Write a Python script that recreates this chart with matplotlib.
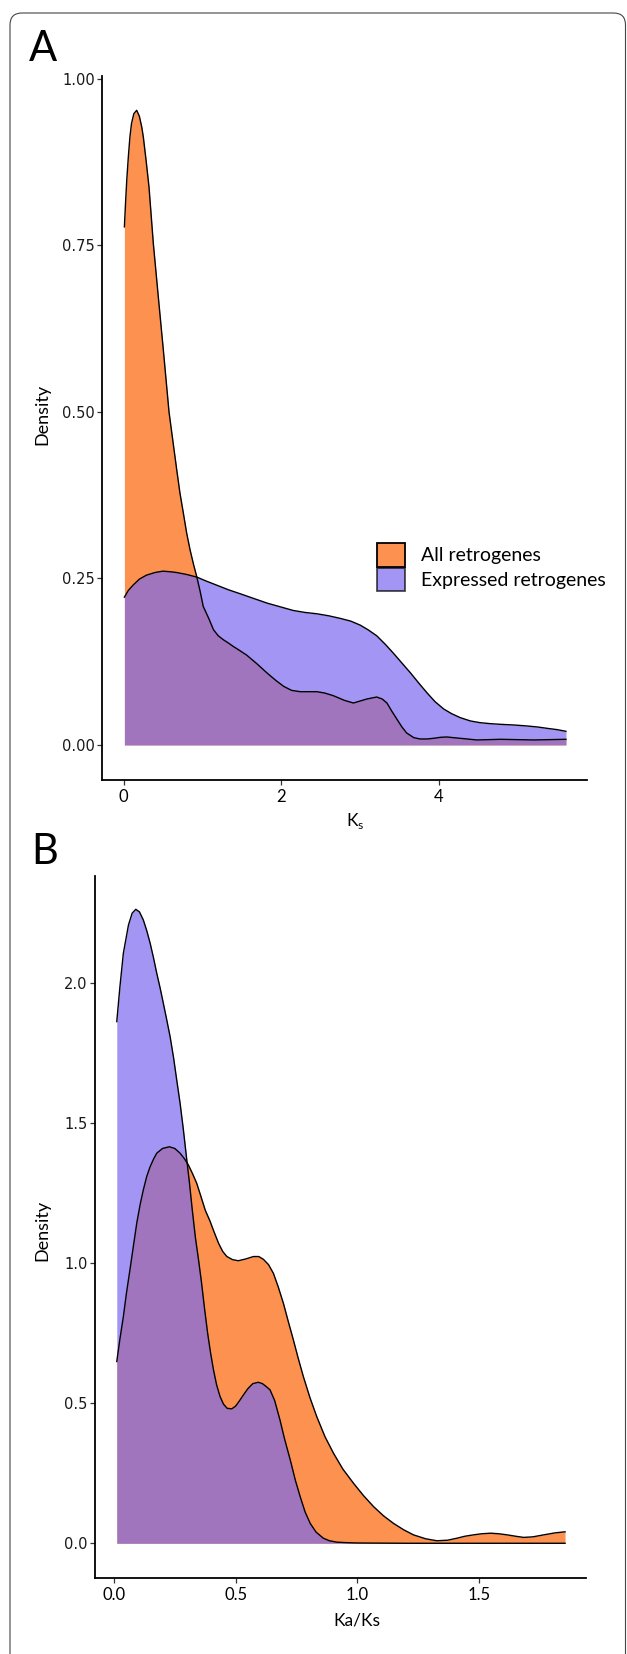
import matplotlib
matplotlib.use('Agg')
import matplotlib.pyplot as plt
from matplotlib.patches import Patch, FancyBboxPatch
from matplotlib.transforms import IdentityTransform

# panel A: Ks densities
ks_all_x = [0.01, 0.025, 0.04, 0.06, 0.08, 0.10, 0.13, 0.166, 0.20, 0.23, 0.25, 0.285, 0.322,
            0.377, 0.44, 0.504, 0.576, 0.63, 0.674, 0.715, 0.758, 0.80, 0.843, 0.885, 0.927,
            0.97, 1.01, 1.08, 1.14, 1.20, 1.265, 1.33, 1.39, 1.47, 1.56, 1.69, 1.82, 1.93,
            2.03, 2.13, 2.24, 2.35, 2.45, 2.55, 2.66, 2.80, 2.915, 3.00, 3.085, 3.21, 3.28,
            3.34, 3.40, 3.47, 3.53, 3.59, 3.68, 3.76, 3.85, 3.93, 4.02, 4.10, 4.18, 4.27,
            4.48, 4.78, 5.20, 5.61]
ks_all_y = [0.778, 0.815, 0.848, 0.883, 0.913, 0.933, 0.948, 0.953, 0.944, 0.928, 0.913, 0.878,
            0.838, 0.753, 0.673, 0.593, 0.500, 0.452, 0.413, 0.378, 0.348, 0.318, 0.293, 0.272,
            0.253, 0.231, 0.208, 0.190, 0.173, 0.164, 0.158, 0.153, 0.148, 0.142, 0.135, 0.122,
            0.108, 0.097, 0.088, 0.082, 0.080, 0.080, 0.080, 0.078, 0.074, 0.067, 0.063, 0.066,
            0.069, 0.072, 0.069, 0.063, 0.051, 0.038, 0.027, 0.018, 0.011, 0.009, 0.009, 0.010,
            0.0115, 0.012, 0.011, 0.010, 0.0075, 0.0085, 0.0075, 0.0085]
ks_expr_x = [0.01, 0.06, 0.12, 0.20, 0.29, 0.40, 0.50, 0.60, 0.67, 0.80, 0.93, 1.05, 1.18, 1.33,
             1.48, 1.65, 1.82, 2.00, 2.15, 2.30, 2.45, 2.60, 2.75, 2.88, 3.00, 3.10, 3.21, 3.32,
             3.42, 3.53, 3.64, 3.75, 3.85, 3.95, 4.06, 4.16, 4.27, 4.40, 4.52, 4.65, 4.78, 4.95,
             5.12, 5.25, 5.37, 5.50, 5.61]
ks_expr_y = [0.222, 0.232, 0.240, 0.249, 0.255, 0.259, 0.261, 0.260, 0.259, 0.256, 0.252, 0.246,
             0.240, 0.233, 0.227, 0.220, 0.213, 0.207, 0.202, 0.199, 0.197, 0.194, 0.190, 0.186,
             0.180, 0.173, 0.164, 0.151, 0.138, 0.123, 0.108, 0.092, 0.078, 0.065, 0.054, 0.047,
             0.041, 0.036, 0.0335, 0.032, 0.031, 0.030, 0.0285, 0.027, 0.025, 0.023, 0.0205]

# panel B: Ka/Ks densities
kaks_all_x = [0.012, 0.025, 0.039, 0.052, 0.066, 0.08, 0.094, 0.108, 0.121, 0.135, 0.149, 0.163,
              0.176, 0.20, 0.228, 0.25, 0.272, 0.29, 0.306, 0.323, 0.340, 0.357, 0.375, 0.395,
              0.41, 0.430, 0.447, 0.464, 0.487, 0.511, 0.54, 0.573, 0.595, 0.614, 0.635, 0.655,
              0.675, 0.696, 0.716, 0.737, 0.757, 0.778, 0.805, 0.833, 0.867, 0.902, 0.94, 0.984,
              1.025, 1.066, 1.107, 1.148, 1.19, 1.230, 1.28, 1.326, 1.37, 1.408, 1.44, 1.476,
              1.51, 1.547, 1.58, 1.615, 1.65, 1.682, 1.72, 1.764, 1.81, 1.852]
kaks_all_y = [0.649, 0.730, 0.809, 0.895, 0.976, 1.060, 1.143, 1.210, 1.262, 1.310, 1.345, 1.372,
              1.393, 1.410, 1.416, 1.410, 1.393, 1.373, 1.351, 1.320, 1.286, 1.240, 1.190, 1.150,
              1.115, 1.071, 1.042, 1.024, 1.013, 1.009, 1.015, 1.024, 1.024, 1.014, 0.995, 0.964,
              0.915, 0.857, 0.792, 0.726, 0.660, 0.595, 0.520, 0.452, 0.380, 0.321, 0.265, 0.214,
              0.170, 0.131, 0.098, 0.071, 0.048, 0.030, 0.016, 0.009, 0.011, 0.018, 0.025, 0.030,
              0.034, 0.036, 0.034, 0.030, 0.025, 0.021, 0.023, 0.030, 0.037, 0.041]
kaks_expr_x = [0.012, 0.025, 0.039, 0.06, 0.075, 0.09, 0.105, 0.121, 0.135, 0.149, 0.163, 0.176,
               0.19, 0.203, 0.217, 0.231, 0.245, 0.258, 0.272, 0.285, 0.298, 0.31, 0.322, 0.335,
               0.348, 0.36, 0.372, 0.385, 0.397, 0.409, 0.422, 0.436, 0.45, 0.465, 0.484, 0.50,
               0.515, 0.532, 0.55, 0.57, 0.593, 0.61, 0.625, 0.641, 0.66, 0.682, 0.70, 0.724,
               0.745, 0.765, 0.785, 0.806, 0.83, 0.86, 0.885, 0.915, 0.96, 1.0, 1.2, 1.5, 1.852]
kaks_expr_y = [1.863, 1.988, 2.107, 2.208, 2.250, 2.264, 2.255, 2.226, 2.188, 2.143, 2.090, 2.036,
               1.983, 1.929, 1.870, 1.809, 1.735, 1.655, 1.571, 1.480, 1.380, 1.290, 1.190, 1.090,
               1.010, 0.930, 0.840, 0.750, 0.680, 0.619, 0.565, 0.524, 0.497, 0.482, 0.480, 0.490,
               0.508, 0.530, 0.552, 0.570, 0.575, 0.570, 0.560, 0.548, 0.510, 0.440, 0.375, 0.298,
               0.225, 0.166, 0.112, 0.071, 0.040, 0.018, 0.009, 0.004, 0.002, 0.001, 0.0, 0.0, 0.0]

legend_labels = ['All retrogenes', 'Expressed retrogenes']
a_yticks = [0, 0.25, 0.5, 0.75, 1.0]
a_yticklabels = ['0.00', '0.25', '0.50', '0.75', '1.00']
a_xticks = [0, 2, 4]
b_yticks = [0, 0.5, 1.0, 1.5, 2.0]
b_yticklabels = ['0.0', '0.5', '1.0', '1.5', '2.0']
b_xticks = [0, 0.5, 1.0, 1.5]
b_xticklabels = ['0.0', '0.5', '1.0', '1.5']

ORANGE = '#FC9150'
BLUE = '#7B68EE'
LABEL_FONT = 'Lato'

W, H = 627, 1654
fig = plt.figure(figsize=(W / 100, H / 100), dpi=100)


def px_axes(left, top, right, bottom):
    return fig.add_axes([left / W, 1 - bottom / H, (right - left) / W, (bottom - top) / H])


def style(ax):
    for s in ['top', 'right']:
        ax.spines[s].set_visible(False)
    for s in ['left', 'bottom']:
        ax.spines[s].set_linewidth(1.3)
    ax.tick_params(axis='both', length=3.5, width=0.9, color='#333333')
    ax.tick_params(axis='y', pad=1.5, labelsize=10.5, labelcolor='#1a1a1a')
    ax.tick_params(axis='x', pad=3, labelsize=12)
    for t in ax.get_xticklabels():
        t.set_family(LABEL_FONT)


def densities(ax, xa, ya, xe, ye):
    ax.fill_between(xa, 0, ya, color=ORANGE, lw=0)
    ax.plot(xa, ya, color='black', lw=1.0)
    ax.fill_between(xe, 0, ye, color=BLUE, alpha=0.7, lw=0)
    ax.plot(xe, ye, color='black', lw=1.0)


# --- panel A
ax_a = px_axes(102, 76, 587, 780)
densities(ax_a, ks_all_x, ks_all_y, ks_expr_x, ks_expr_y)
ax_a.set_xlim(-0.274, 5.877)
ax_a.set_ylim(-0.0526, 1.0045)
ax_a.set_yticks(a_yticks)
ax_a.set_yticklabels(a_yticklabels)
ax_a.set_xticks(a_xticks)
style(ax_a)

handles = [Patch(facecolor=ORANGE, edgecolor='black', lw=1.3),
           Patch(facecolor=BLUE, alpha=0.7, edgecolor='black', lw=1.3)]
leg = ax_a.legend(handles, legend_labels, loc='upper left',
                  bbox_to_anchor=(377 / W, 1 - 543 / H), bbox_transform=fig.transFigure,
                  frameon=False, borderpad=0, borderaxespad=0, handlelength=1.44,
                  handleheight=1.49, labelspacing=0.05, handletextpad=0.8,
                  prop={'family': LABEL_FONT, 'size': 14})
for h in leg.legend_handles:
    h.set_edgecolor('black')

# --- panel B
ax_b = px_axes(94.6, 876, 586, 1578)
densities(ax_b, kaks_all_x, kaks_all_y, kaks_expr_x, kaks_expr_y)
ax_b.set_xlim(-0.079, 1.938)
ax_b.set_ylim(-0.124, 2.383)
ax_b.set_yticks(b_yticks)
ax_b.set_yticklabels(b_yticklabels)
ax_b.set_xticks(b_xticks)
ax_b.set_xticklabels(b_xticklabels)
style(ax_b)

# axis titles, placed in figure pixels
def fig_text(x, y, s, **kw):
    fig.text(x / W, 1 - y / H, s, family=LABEL_FONT, **kw)

fig_text(42, 414, 'Density', size=13, rotation=90, ha='center', va='center')
fig_text(42, 1230, 'Density', size=13, rotation=90, ha='center', va='center')
fig_text(355, 821, r'K$_\mathregular{s}$', size=12.5, ha='center', va='center')
fig_text(357, 1620, 'Ka/Ks', size=12.5, ha='center', va='center')

# panel letters
fig_text(29, 61, 'A', size=30, ha='left', va='baseline')
fig_text(31, 864, 'B', size=30, ha='left', va='baseline')

# rounded frame around the figure
frame = FancyBboxPatch((10, -30), 615.5, H - 13 + 30, boxstyle='round,pad=0,rounding_size=12',
                       transform=IdentityTransform(), fill=False, edgecolor='#444444', lw=0.8)
fig.patches.append(frame)

fig.savefig('out.png', dpi=100)
